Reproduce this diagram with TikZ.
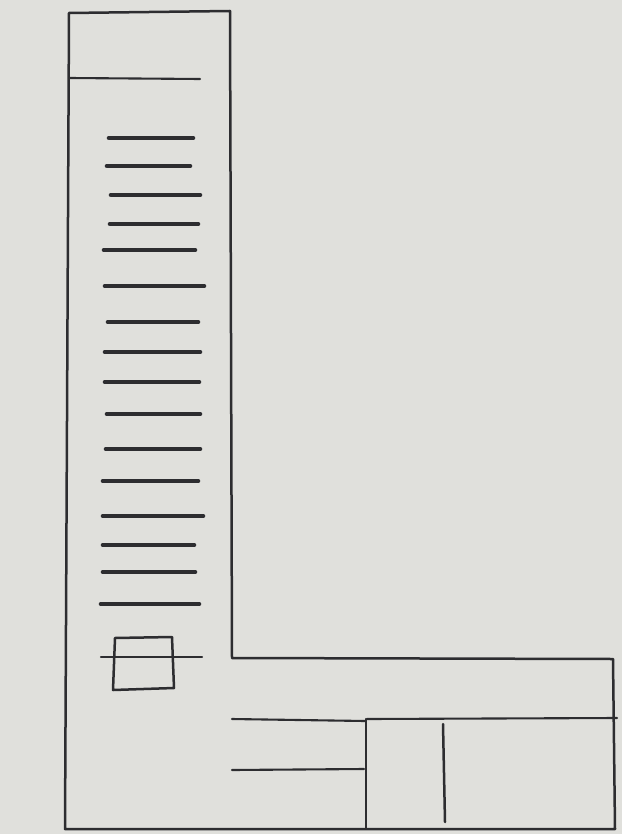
\documentclass[tikz,border=0pt]{standalone}
\begin{document}
\begin{tikzpicture}[x=1pt,y=-1pt,
  pen/.style={draw=ink,line width=2.5pt,line cap=round,line join=round},
  thin pen/.style={draw=ink,line width=2.1pt,line cap=round},
  bar/.style={draw=ink,line width=4.6pt,line cap=round}]
\definecolor{ink}{RGB}{45,45,48}
\definecolor{paper}{RGB}{224,224,220}
\fill[paper] (0,0) rectangle (622,834);
\useasboundingbox (0,0) rectangle (622,834);
% outer L-shaped outline
\draw[pen] (69,13) -- (230,11) -- (232,658) -- (613,659) -- (615,829) -- (65,829) -- cycle;
% header divider
\draw[thin pen] (69,78) -- (200,79);
% list bars
\foreach \y/\a/\b in {138/109/193,166/107/190,195/111/200,224/110/198,250/104/195,286/105/204,
                      322/108/198,352/105/200,382/105/199,414/107/200,449/106/200,481/103/198,
                      516/103/203,545/103/194,572/103/195,604/101/199}
  \draw[bar] (\a,\y) -- (\b,\y);
% small box with crossing line
\draw[pen] (115,638) -- (172,637) -- (174,688) -- (113,690) -- cycle;
\draw[thin pen] (101,657) -- (202,657);
% bottom panel
\draw[thin pen] (232,719) -- (365,721);
\draw[thin pen] (367,719) -- (617,718);
\draw[thin pen] (232,770) -- (364,769);
\draw[pen] (366,719) -- (366,828);
\draw[pen] (443,724) -- (445,822);
\end{tikzpicture}
\end{document}
